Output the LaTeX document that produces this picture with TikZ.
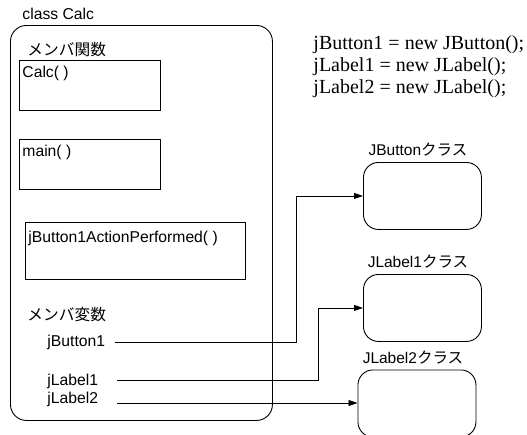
\documentclass[tikz,border=0pt]{standalone}
\usepackage{fontspec}
\setmainfont{Liberation Serif}
\setsansfont{Liberation Sans}
\newfontfamily\jp{Noto Sans CJK JP}
\usetikzlibrary{arrows.meta}
\begin{document}
\begin{tikzpicture}[x=1pt,y=-1pt,line width=0.9pt,
  lbl/.style={font=\sffamily\fontsize{15.7}{18}\selectfont,inner sep=0pt,anchor=west},
  code/.style={font=\rmfamily\fontsize{20}{22}\selectfont,inner sep=0pt,anchor=west},
  cls/.style={font=\sffamily\fontsize{15.5}{18}\selectfont,inner sep=0pt},
  fbox/.style={draw,anchor=north west,minimum height=50pt,inner sep=0pt},
  cbox/.style={draw,rounded corners=15pt,anchor=north west,minimum width=118pt,minimum height=67pt,inner sep=0pt},
  arr/.style={-{Triangle[length=9pt,width=6pt]}}]
\useasboundingbox (0,0) rectangle (527,434);
\clip (0,0) rectangle (527,434);
% main class
\node[lbl] (cn) at (22,14) {class Calc};
\node[draw,rounded corners=16pt,anchor=north west,minimum width=262pt,minimum height=395pt,inner sep=0pt] (main) at (10,25) {};
\node[lbl] (mf) at (27,50) {\jp メンバ関数};
\node[fbox,minimum width=141pt] (b1) at (19,60) {};
\node[lbl] (t1) at (22,73) {Calc( )};
\node[fbox,minimum width=141pt] (b2) at (19,138.5) {};
\node[lbl] (t2) at (22,152) {main( )};
\node[fbox,minimum width=220pt,minimum height=57pt] (b3) at (25,222) {};
\node[lbl] (t3) at (28,238) {jButton1ActionPerformed( )};
\node[lbl] (mv) at (27,315) {\jp メンバ変数};
\node[lbl] (v1) at (47,342) {jButton1};
\node[lbl] (v2) at (47,381) {jLabel1};
\node[lbl] (v3) at (47,399) {jLabel2};
% code text
\node[code] (c1) at (313,45) {jButton1 = new JButton();};
\node[code] (c2) at (313,67) {jLabel1 = new JLabel();};
\node[code] (c3) at (313,89) {jLabel2 = new JLabel();};
% classes
\node[cbox] (jbc) at (363,162) {};
\node[cls] (jbl) at (418,150) {JButton{\jp クラス}};
\node[cbox] (jl1c) at (363,274) {};
\node[cls] (jl1l) at (418,262) {JLabel1{\jp クラス}};
\node[cbox] (jl2c) at (357.5,369.5) {};
\node[cls] (jl2l) at (413,358) {JLabel2{\jp クラス}};
% connectors
\coordinate (x1) at (296,0);
\coordinate (x2) at (318,0);
\coordinate (s1) at (115,342);
\coordinate (s2) at (117,380);
\coordinate (s3) at (117,403);
\draw[arr] (s1) -| (x1 |- jbc.west) -- (jbc.west);
\draw[arr] (s2) -| (x2 |- jl1c.west) -- (jl1c.west);
\draw[arr] (s3) -- (s3 -| jl2c.west);
\end{tikzpicture}
\end{document}
